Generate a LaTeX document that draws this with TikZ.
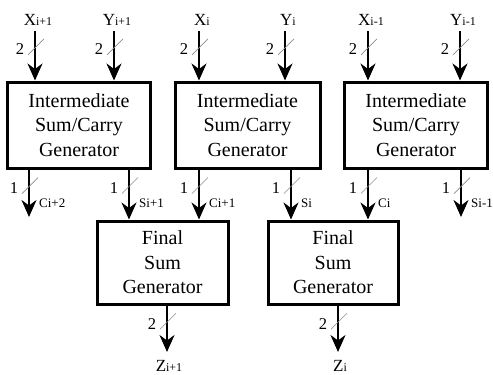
\documentclass[tikz,border=0pt]{standalone}
\usepackage{fontspec}
\setmainfont{Liberation Serif}
\usetikzlibrary{arrows.meta}

% bus arrow: start, end, bit width, position of the width mark
\newcommand\busline[4]{%
  \draw[sig] (#1) -- coordinate[pos=#4] (bm) (#2);
  \draw[slashline] ([shift={(-7,8)}]bm) -- ([shift={(9,-8)}]bm);
  \node[buslbl] at ([shift={(-15,2.5)}]bm) {#3};}

\begin{document}
\begin{tikzpicture}[x=1pt,y=-1pt,
  block/.style={draw, line width=3pt, minimum width=143pt, minimum height=86pt,
    align=center, inner sep=0pt, font=\fontsize{20}{24.5}\selectfont},
  fblock/.style={block, minimum width=131pt, minimum height=83pt},
  sig/.style={line width=1.8pt, -{Stealth[length=17pt,width=15pt,inset=5.5pt]}},
  slashline/.style={black!45, line width=0.6pt},
  buslbl/.style={font=\fontsize{16.5}{16.5}\selectfont, inner sep=0pt},
  sublbl/.style={font=\fontsize{13}{13}\selectfont, anchor=west, inner sep=0pt},
  pinlbl/.style={font=\fontsize{17}{17}\selectfont, inner sep=0pt},
]
\useasboundingbox (0,0) rectangle (493,375);

% generator blocks
\node[block] (b1) at (79,125) {Intermediate\\Sum/Carry\\Generator};
\node[block, minimum width=145pt] (b2) at (247.5,125) {Intermediate\\Sum/Carry\\Generator};
\node[block] (b3) at (416,125) {Intermediate\\Sum/Carry\\Generator};
\node[fblock] (f1) at (162.5,262.5) {Final\\Sum\\Generator};
\node[fblock, minimum width=130pt] (f2) at (333,262.5) {Final\\Sum\\Generator};

% operand inputs
\newcommand\opin[3]{%
  \coordinate (#1) at (#2,31);
  \node[pinlbl, anchor=base] at ([xshift=3]#2,25) {#3};}
\opin{xa}{35}{X{\fontsize{12}{12}\selectfont i+1}}
\opin{ya}{114}{Y{\fontsize{12}{12}\selectfont i+1}}
\opin{xb}{199}{X{\fontsize{12}{12}\selectfont i}}
\opin{yb}{285}{Y{\fontsize{12}{12}\selectfont i}}
\opin{xc}{368}{X{\fontsize{12}{12}\selectfont i-1}}
\opin{yc}{460}{Y{\fontsize{12}{12}\selectfont i-1}}

\busline{xa}{xa |- b1.north}{2}{0.32}
\busline{ya}{ya |- b1.north}{2}{0.32}
\busline{xb}{xb |- b2.north}{2}{0.32}
\busline{yb}{yb |- b2.north}{2}{0.32}
\busline{xc}{xc |- b3.north}{2}{0.32}
\busline{yc}{yc |- b3.north}{2}{0.32}

% intermediate sum and carry signals
\coordinate (c2) at (29,217);
\coordinate (s1) at (129,217);
\coordinate (c1) at (199,217);
\coordinate (s0) at (291,217);
\coordinate (c0) at (368,217);
\coordinate (sm) at (461,217);

\busline{c2 |- b1.south}{c2}{1}{0.34}
\busline{s1 |- b1.south}{s1 |- f1.north}{1}{0.32}
\busline{c1 |- b2.south}{c1 |- f1.north}{1}{0.32}
\busline{s0 |- b2.south}{s0 |- f2.north}{1}{0.32}
\busline{c0 |- b3.south}{c0 |- f2.north}{1}{0.32}
\busline{sm |- b3.south}{sm}{1}{0.34}

\node[sublbl] at (39,203) {Ci+2};
\node[sublbl] at (139,203) {Si+1};
\node[sublbl] at (209,203) {Ci+1};
\node[sublbl] at (301,203) {Si};
\node[sublbl] at (378,203) {Ci};
\node[sublbl] at (471,203) {Si-1};

% final sums
\coordinate (z1) at (167,352);
\coordinate (z0) at (338,352);
\busline{z1 |- f1.south}{z1}{2}{0.34}
\busline{z0 |- f2.south}{z0}{2}{0.34}
\node[pinlbl, anchor=base] at (169,371) {Z{\fontsize{12}{12}\selectfont i+1}};
\node[pinlbl, anchor=base] at (340,371) {Z{\fontsize{12}{12}\selectfont i}};
\end{tikzpicture}
\end{document}
